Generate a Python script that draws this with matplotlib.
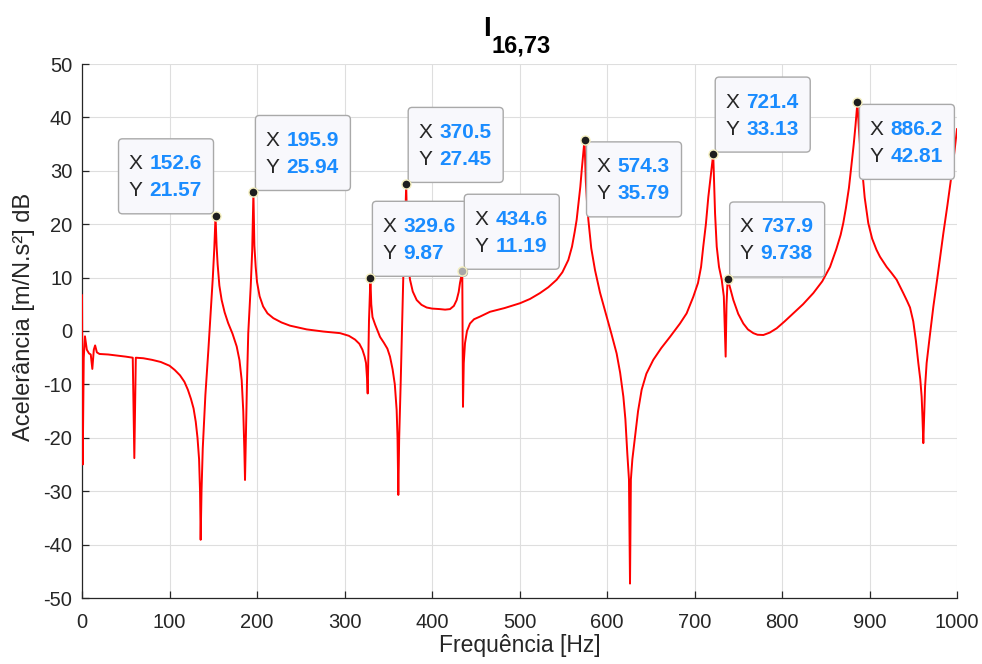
"""FRF plot I_16,73 with MATLAB-style data tips."""
import matplotlib
matplotlib.use('Agg')
from matplotlib import pyplot as plt
from matplotlib.patches import FancyBboxPatch
from matplotlib.transforms import IdentityTransform

plt.rcParams['font.family'] = ['Liberation Sans', 'DejaVu Sans']
plt.rcParams['axes.unicode_minus'] = False

LINE_COLOR = '#ff0000'
TEXT_COLOR = '#262626'
VALUE_COLOR = '#1a8cff'

# Curve (Hz, dB)
freq_hz = [
    0, 0.8, 2.0, 3.4, 5.5, 8, 10, 11.8, 13.5, 15, 17, 20, 30, 40, 50, 58,
    59.8, 61.5, 70, 80, 90, 100, 106, 112, 117, 121, 124.5, 127.5, 130,
    132, 133.8, 134.9, 135.6, 136.6, 138, 141, 144.4, 147, 149.5, 151.2,
    152.6, 153.8, 155, 157, 159.6, 163, 167, 172, 176.8, 180, 182.5, 184.3,
    185.5, 186.3, 187.3, 188.5, 190, 192.8, 194.5, 195.9, 197, 198.5, 200,
    203, 207, 212, 218.7, 228, 237.7, 256.8, 275.8, 294.9, 305, 312, 317,
    320.5, 323, 324.6, 325.8, 326.5, 327.3, 328, 329.6, 330.6, 332, 335,
    340.6, 345, 349, 352, 355, 357.5, 359.6, 360.6, 361.5, 362.5, 364.2,
    367.2, 369, 370.5, 372, 373.5, 374.9, 378, 382.5, 388, 393.9, 400, 409,
    415, 420.6, 425, 428.2, 430.5, 432, 434.6, 435.4, 436.3, 437.7, 440,
    443.4, 448, 454.9, 466.3, 483, 500.6, 512, 523.4, 533, 542.5, 549,
    555.8, 560, 563, 565.3, 567.5, 569.5, 571.1, 574.3, 575.8, 577.2, 578.7,
    582, 586.3, 592, 599.6, 605, 611, 615, 618.7, 621, 623.2, 625.1, 626.3,
    627.3, 629, 632, 635.5, 639.6, 645, 652.9, 662, 672, 683.4, 691, 698.6,
    704, 707.5, 710, 713, 715.8, 718.5, 721.4, 723.5, 725.4, 728, 731.1,
    733.5, 735.6, 736.6, 737.9, 740, 744.4, 750, 755.8, 761, 767.2, 772,
    778.7, 786, 793.9, 803, 812.9, 824, 835.8, 846, 854.9, 862, 867, 870,
    873, 876.5, 879.6, 882, 884, 886.2, 888, 889.5, 891, 894.5, 898.6, 903,
    908, 912, 919.6, 925, 931, 938.6, 943, 946.3, 950, 953, 955.8, 958,
    959.6, 960.5, 961.5, 962.5, 963.5, 965.3, 968.5, 973, 978, 984.4, 989,
    994, 997, 1000,
]
accel_db = [
    6.7, -25.0, -5.0, -1.0, -3.5, -4.2, -4.4, -7.1, -3.5, -2.7, -4.0, -4.3,
    -4.4, -4.6, -4.8, -5.0, -23.8, -5.0, -5.1, -5.4, -5.8, -6.5, -7.3,
    -8.3, -9.5, -11.0, -12.7, -14.5, -17.0, -20.0, -24.0, -30.0, -39.1,
    -30.0, -22.0, -12.0, -3.6, 3.5, 10.0, 15.5, 21.57, 16.0, 12.5, 8.5,
    5.8, 3.5, 1.5, -0.5, -2.9, -5.5, -9.2, -15.0, -22.0, -27.9, -20.0,
    -10.0, -0.4, 8.3, 15.0, 25.94, 16.0, 12.0, 9.2, 6.5, 4.6, 3.3, 2.4,
    1.6, 1.0, 0.3, -0.1, -0.4, -0.9, -1.6, -2.4, -3.5, -4.8, -6.0, -9.0,
    -11.7, -4.0, 2.0, 9.87, 5.0, 2.6, 1.2, -1.1, -2.2, -3.3, -4.8, -7.2,
    -10.0, -14.8, -20.0, -30.7, -20.0, -9.8, 10.2, 18.0, 27.45, 16.0, 11.5,
    9.6, 7.4, 5.8, 4.9, 4.4, 4.2, 4.1, 4.0, 4.1, 4.7, 5.8, 7.3, 9.0, 11.19,
    -14.2, -6.0, -2.3, 0.0, 1.4, 2.2, 2.7, 3.6, 4.3, 5.2, 6.0, 7.1, 8.2,
    9.6, 11.0, 13.3, 15.8, 18.5, 20.8, 24.0, 27.0, 30.1, 35.79, 28.0, 24.0,
    20.8, 15.5, 11.4, 7.2, 2.7, -0.5, -4.2, -7.8, -12.3, -16.5, -22.9,
    -27.8, -47.3, -27.8, -24.0, -19.8, -15.0, -11.0, -8.0, -5.4, -3.2,
    -1.1, 1.4, 3.3, 6.4, 9.0, 12.0, 15.8, 20.0, 25.1, 29.0, 33.13, 22.0,
    15.8, 12.0, 9.6, 6.5, -4.8, 5.0, 9.738, 8.5, 5.8, 3.2, 1.4, 0.3, -0.4,
    -0.7, -0.75, -0.3, 0.5, 1.8, 3.3, 5.0, 7.1, 9.3, 12.0, 15.3, 18.0, 20.2,
    23.0, 26.8, 31.4, 35.0, 38.5, 42.81, 37.5, 34.0, 31.4, 25.0, 20.2, 17.3,
    15.2, 13.9, 12.0, 10.9, 9.6, 7.1, 5.6, 4.4, 1.8, -1.8, -6.0, -9.0,
    -12.3, -16.0, -21.0, -16.0, -10.5, -6.0, -1.5, 4.6, 10.5, 18.3, 23.5,
    29.5, 33.5, 37.8,
]

# Data tips
tip_x = [152.6, 195.9, 329.6, 370.5, 434.6, 574.3, 721.4, 737.9, 886.2]
tip_y = [21.57, 25.94, 9.87, 27.45, 11.19, 35.79, 33.13, 9.738, 42.81]
tip_x_text = ['152.6', '195.9', '329.6', '370.5', '434.6', '574.3', '721.4', '737.9', '886.2']
tip_y_text = ['21.57', '25.94', '9.87', '27.45', '11.19', '35.79', '33.13', '9.738', '42.81']
tip_side = ['ul', 'ur', 'ur', 'ur', 'ur', 'lr', 'ur', 'ur', 'lr']

BOX_W, BOX_H = 95, 75


def main():
    fig = plt.figure(figsize=(9.82, 6.64), dpi=100)
    fig.patch.set_facecolor('white')
    ax = fig.add_axes([82 / 982, 66 / 664, 875 / 982, 534 / 664])

    ax.plot(freq_hz, accel_db, color=LINE_COLOR, lw=1.4, zorder=3)
    ax.set_xlim(0, 1000)
    ax.set_ylim(-50, 50)
    ax.set_xticks(range(0, 1001, 100))
    ax.set_yticks(range(-50, 51, 10))
    ax.grid(True, color='#dedede', lw=0.8)
    ax.set_axisbelow(True)
    for s in ('top', 'right'):
        ax.spines[s].set_visible(False)
    for s in ('left', 'bottom'):
        ax.spines[s].set_color(TEXT_COLOR)
        ax.spines[s].set_linewidth(0.9)
    ax.tick_params(direction='in', length=5, width=0.9, colors=TEXT_COLOR, labelsize=14.5)
    ax.tick_params(axis='x', pad=11)
    ax.tick_params(axis='y', pad=7)

    ax.set_xlabel('Frequência [Hz]', fontsize=16.5, color=TEXT_COLOR, labelpad=1)
    ax.set_ylabel('Acelerância [m/N.s²] dB', fontsize=17, color=TEXT_COLOR, va='center')
    ax.yaxis.set_label_coords(-0.066, 0.526)

    fig.text(483 / 982, 1 - 36 / 664, 'I', fontsize=20, weight='bold', color='black', va='baseline')
    fig.text(492 / 982, 1 - 52 / 664, '16,73', fontsize=17, weight='bold', color='black', va='baseline')

    # Data tip markers and boxes
    ident = IdentityTransform()
    for i, (x, y) in enumerate(zip(tip_x, tip_y)):
        face = '#a8a8a8' if i == 4 else '#1e1e1e'
        ax.plot([x], [y], 'o', ms=6.5, mfc=face, mec='#f4efbf', mew=1.0, zorder=6, clip_on=False)
        mx, my = ax.transData.transform((x, y))
        if tip_side[i] == 'ul':
            left, bottom = mx - 2 - BOX_W, my + 2
        elif tip_side[i] == 'lr':
            left, bottom = mx + 2, my - 2 - BOX_H
        else:
            left, bottom = mx + 2, my + 2
        top = bottom + BOX_H
        box = FancyBboxPatch((left, bottom), BOX_W, BOX_H,
                             boxstyle='round,pad=0,rounding_size=4',
                             fc='#f8f8fc', ec='#a9a9a9', lw=1.0,
                             transform=ident, zorder=5, clip_on=False)
        ax.add_patch(box)
        for dy, name, val in ((25, 'X', tip_x_text[i]), (52, 'Y', tip_y_text[i])):
            ax.text(left + 10, top - dy, name, transform=ident, fontsize=15,
                    color=TEXT_COLOR, va='center', ha='left', zorder=7, clip_on=False)
            ax.text(left + 31, top - dy, val, transform=ident, fontsize=15,
                    color=VALUE_COLOR, weight='bold', va='center', ha='left',
                    zorder=7, clip_on=False)

    fig.savefig('out.png', dpi=100)


if __name__ == '__main__':
    main()
